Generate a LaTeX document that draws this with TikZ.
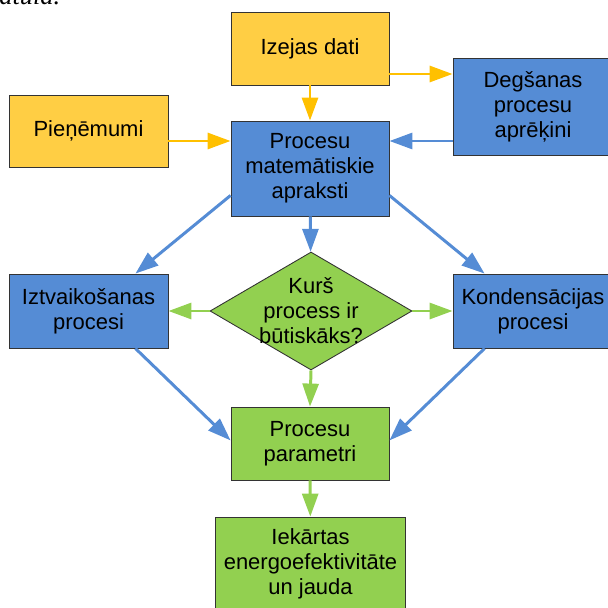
\documentclass[tikz,border=0pt]{standalone}
\usepackage{fontspec}
\setmainfont{Liberation Sans}
\newfontfamily\capfont{Liberation Serif}
\usetikzlibrary{shapes.geometric,arrows.meta,calc}

\definecolor{boxyellow}{RGB}{255,206,68}
\definecolor{lineyellow}{RGB}{255,192,0}
\definecolor{boxblue}{RGB}{85,140,213}
\definecolor{boxgreen}{RGB}{146,208,80}

\begin{document}
\begin{tikzpicture}[x=0.02cm, y=-0.02cm, font=\fontsize{12.5}{14.2}\selectfont,
  box/.style={rectangle, draw=black!80, line width=0.5pt, align=center, inner sep=0pt,
    minimum width=3.16cm, minimum height=1.46cm},
  yellowbox/.style={box, fill=boxyellow},
  bluebox/.style={box, fill=boxblue},
  greenbox/.style={box, fill=boxgreen},
  decision/.style={diamond, draw=black!80, line width=0.5pt, fill=boxgreen, align=center,
    aspect=1.71, inner sep=-3pt, minimum width=4.04cm, minimum height=2.36cm},
  arr/.style={line width=1.7pt, -{Triangle[length=0.46cm, width=0.32cm]}},
  yarr/.style={arr, lineyellow},
  barr/.style={arr, boxblue},
  garr/.style={arr, boxgreen}]
  \useasboundingbox (0,0) rectangle (608,608);

  % Cut caption line of the page
  \node[anchor=base west, inner sep=0pt, font=\capfont\fontsize{15}{18}\selectfont] (cap) at (-1,5) {\textit{atula.}};

  % Define blocks
  \node[yellowbox] (izejas) at (310,48.5) {Izejas dati};
  \node[yellowbox, minimum width=3.18cm, minimum height=1.44cm] (pienem) at (88.5,131) {Pieņēmumi};
  \node[bluebox, minimum width=3.2cm, minimum height=1.94cm] (degsanas) at (533,106.5) {Degšanas\\procesu\\aprēķini};
  \node[bluebox, minimum height=1.9cm] (apraksti) at (310,168.5) {Procesu\\matemātiskie\\apraksti};
  \node[decision] (q) at (311,311) {Kurš\\process ir\\būtiskāks?};
  \node[bluebox, minimum width=3.18cm, minimum height=1.48cm] (iztv) at (88.5,311) {Iztvaikošanas\\procesi};
  \node[bluebox, minimum width=3.2cm, minimum height=1.48cm] (kond) at (533,311) {Kondensācijas\\procesi};
  \node[greenbox] (param) at (310,443.5) {Procesu\\parametri};
  \node[greenbox, minimum width=3.8cm, minimum height=1.88cm] (iekartas) at (310.5,564) {Iekārtas\\energoefektivitāte\\un jauda};

  % Levels of the horizontal arrows
  \coordinate (h0) at (0,74);
  \coordinate (h1) at (0,141);

  % Draw arrows
  \draw[yarr] (izejas) -- (apraksti);
  \draw[yarr] (izejas.east |- h0) -- (degsanas.west |- h0);
  \draw[yarr] (pienem.east |- h1) -- (apraksti.west |- h1);
  \draw[barr] (degsanas.west |- h1) -- (apraksti.east |- h1);
  \draw[barr] (apraksti) -- (q);
  \draw[barr] ($(apraksti.south west)+(0,-21)$) -- ($(iztv.north east)+(-33,0)$);
  \draw[barr] ($(apraksti.south east)+(0,-21)$) -- ($(kond.north west)+(32,0)$);
  \draw[garr] (q.west) -- (iztv.east);
  \draw[garr] (q.east) -- (kond.west);
  \draw[garr] (q.south) -- (param.north);
  \draw[barr] ($(iztv.south east)+(-33,0)$) -- ($(param.south west)+(0,-40)$);
  \draw[barr] ($(kond.south west)+(32,0)$) -- ($(param.south east)+(0,-40)$);
  \draw[garr] (param) -- (iekartas);

\end{tikzpicture}
\end{document}
